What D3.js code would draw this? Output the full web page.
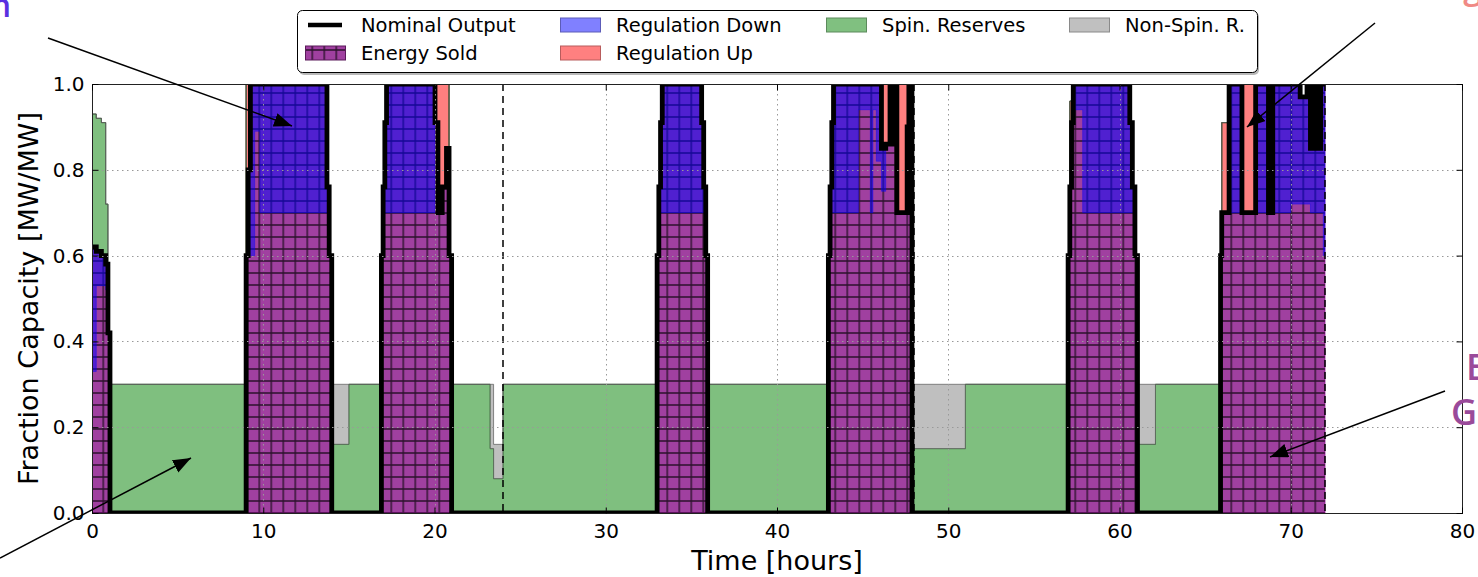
<!DOCTYPE html>
<html>
<head>
<meta charset="utf-8">
<script src="https://cdn.jsdelivr.net/npm/d3@7"></script>
<style>
  body { margin: 0; background: #fff; overflow: hidden; }
  svg { display: block; font-family: "DejaVu Sans", sans-serif; }
</style>
</head>
<body>
<svg id="chart" width="1478" height="577"></svg>
<script>
// step series: [start hour, value], each value holds until the next start
const nominalSteps = [[0,0.62],[0.25,0.61],[0.55,0.60],[0.8,0.58],[0.93,0.42],[1.05,0],
  [9.0,0.6],[9.12,0.8],[9.25,1.0],[13.72,0.76],[13.85,0.6],[14.0,0],
  [16.9,0.6],[17.0,0.76],[17.1,0.91],[17.2,1.0],[20.03,0.91],[20.2,0.7],[20.45,0.76],[20.7,0.85],[20.85,0.6],[21.0,0],
  [33.0,0.6],[33.1,0.76],[33.2,0.91],[33.3,1.0],[35.6,0.91],[35.72,0.76],[35.84,0.6],[35.95,0],
  [43.0,0.6],[43.1,0.76],[43.2,0.91],[43.3,1.0],[46.1,0.85],[46.35,0.86],[46.6,1.0],[46.72,0.86],[46.84,1.0],
  [47.0,0.7],[47.6,0.9],[47.7,1.0],[47.88,0],
  [57.0,0.6],[57.1,0.76],[57.2,0.91],[57.3,1.0],[60.6,0.91],[60.75,0.76],[60.9,0.6],[61.05,0],
  [65.9,0.6],[65.97,0.7],[66.4,1.0],[67.15,0.7],[67.95,1.0],[68.7,0.7],[68.95,1.0],[70.55,0.97],[70.95,1.0],
  [71.15,0.85],[71.3,1.0],[71.42,0.85],[71.55,1.0],[71.65,0.85],[71.75,1.0]];

const regDownSteps = [[0,0.29],[0.25,0.08],[0.55,0.07],[0.8,0.06],[0.93,0],
  [9.25,0.4],[9.5,0.11],[9.8,0.3],[13.72,0.06],[13.85,0],
  [17.0,0.06],[17.1,0.21],[17.2,0.3],[20.03,0],
  [33.1,0.06],[33.2,0.21],[33.3,0.3],[35.6,0.21],[35.72,0.06],[35.84,0],
  [43.1,0.06],[43.2,0.21],[43.3,0.3],[44.75,0.06],[45.45,0.3],[45.6,0.06],[45.8,0.18],[46.1,0.1],[46.35,0],
  [46.6,0.14],[46.72,0],[46.84,0.14],[47.0,0],[47.7,0.3],[47.88,0],
  [57.3,0.06],[57.85,0.3],[60.6,0.21],[60.75,0.06],[60.9,0],
  [66.4,0.3],[67.15,0],[67.95,0.3],[68.7,0],[68.95,0.3],[70.0,0.28],[70.55,0.25],[70.95,0.28],
  [71.15,0.15],[71.3,0.3],[71.42,0.15],[71.55,0.3],[71.65,0.15],[71.75,0.3],[71.9,0.4]];

const regUpSteps = [[0,0],[9.0,0.4],[9.12,0.2],[9.25,0],
  [20.03,0.09],[20.2,0.3],[20.45,0.24],[20.7,0.15],[20.85,0],
  [46.1,0.15],[46.35,0.14],[46.6,0],[46.72,0.14],[46.84,0],[47.0,0.3],[47.6,0.1],[47.7,0],
  [57.1,0.2],[57.2,0.09],[57.3,0],
  [65.97,0.21],[66.4,0],[67.15,0.3],[67.95,0],[68.7,0.3],[68.95,0]];

const spinSteps = [[0,0.31],[0.8,0.14],[0.93,0],[1.05,0.3],[9.0,0],
  [14.0,0.16],[15.0,0.3],[16.9,0],[21.0,0.3],[23.25,0.15],[23.45,0.08],[24.0,0.3],[33.0,0],
  [35.95,0.3],[43.0,0],[47.88,0.15],[51.0,0.3],[57.0,0],[61.05,0.16],[62.1,0.3],[65.9,0]];

const nonSpinSteps = [[0,0],[14.0,0.14],[15.0,0],[23.25,0.15],[23.45,0.08],[24.0,0],
  [47.88,0.15],[51.0,0],[61.05,0.14],[62.1,0]];

const endHour = 72;
const dayMarks = [24, 48, 72];
const xTicks = [0, 10, 20, 30, 40, 50, 60, 70, 80];
const yTicks = [0, 0.2, 0.4, 0.6, 0.8, 1.0];
const legendLabels = ['Nominal Output', 'Energy Sold', 'Regulation Down', 'Regulation Up', 'Spin. Reserves', 'Non-Spin. R.'];

const svg = d3.select('#chart');
const pLeft = 92, pRight = 1462, pTop = 84, pBottom = 513;

const x = d3.scaleLinear().domain([0, 80]).range([pLeft, pRight]);
const y = d3.scaleLinear().domain([0, 1]).range([pBottom, pTop]);

function stepAt(steps, t) {
  let v = 0;
  for (const s of steps) {
    if (s[0] <= t + 1e-9) v = s[1]; else break;
  }
  return v;
}

const allSteps = [nominalSteps, regDownSteps, regUpSteps, spinSteps, nonSpinSteps];
const times = Array.from(new Set([].concat(...allSteps).map(function(d) { return d[0]; })))
  .sort(function(a, b) { return a - b; });

const rows = times.map(function(t) {
  return {
    t: t,
    nom: stepAt(nominalSteps, t),
    rd: stepAt(regDownSteps, t),
    ru: stepAt(regUpSteps, t),
    sp: stepAt(spinSteps, t),
    ns: stepAt(nonSpinSteps, t)
  };
});
rows.push(Object.assign({}, rows[rows.length - 1], {t: endHour}));

const defs = svg.append('defs');
const pat = defs.append('pattern')
  .attr('id', 'hatch')
  .attr('patternUnits', 'userSpaceOnUse')
  .attr('width', 12).attr('height', 12)
  .attr('x', 1.3).attr('y', 3);
pat.append('rect').attr('width', 12).attr('height', 12).attr('fill', '#a040a0');
pat.append('path').attr('d', 'M6,0V12M0,6H12')
  .attr('stroke', '#000').attr('stroke-opacity', 0.72).attr('stroke-width', 1.4);

defs.append('clipPath').attr('id', 'plotClip')
  .append('rect')
  .attr('x', pLeft).attr('y', pTop)
  .attr('width', pRight - pLeft).attr('height', pBottom - pTop);

defs.append('marker')
  .attr('id', 'arrowHead')
  .attr('markerUnits', 'userSpaceOnUse')
  .attr('markerWidth', 20).attr('markerHeight', 16)
  .attr('refX', 18).attr('refY', 7)
  .attr('orient', 'auto')
  .append('path')
  .attr('d', 'M0,0L18,7L0,14Z')
  .attr('fill', '#000');

const plot = svg.append('g').attr('clip-path', 'url(#plotClip)');

function areaFor(lo, hi) {
  return d3.area()
    .curve(d3.curveStepAfter)
    .x(function(d) { return x(d.t); })
    .y0(function(d) { return y(lo(d)); })
    .y1(function(d) { return y(hi(d)); });
}

const layers = [
  {fill: 'url(#hatch)', stroke: 'rgba(128,0,128,0.7)',
    lo: function(d) { return 0; }, hi: function(d) { return d.nom; }},
  {fill: 'rgba(0,0,255,0.5)', stroke: 'rgba(0,0,255,0.4)',
    lo: function(d) { return d.nom - d.rd; }, hi: function(d) { return d.nom; }},
  {fill: 'rgba(255,0,0,0.5)', stroke: 'rgba(200,0,0,0.5)',
    lo: function(d) { return d.nom; }, hi: function(d) { return d.nom + d.ru; }},
  {fill: 'rgba(0,128,0,0.5)', stroke: 'rgba(0,100,0,0.5)',
    lo: function(d) { return d.nom + d.ru; }, hi: function(d) { return d.nom + d.ru + d.sp; }},
  {fill: 'rgba(128,128,128,0.5)', stroke: 'rgba(90,90,90,0.7)',
    lo: function(d) { return d.nom + d.ru + d.sp; }, hi: function(d) { return d.nom + d.ru + d.sp + d.ns; }}
];

plot.selectAll('path.layer')
  .data(layers)
  .enter()
  .append('path')
  .attr('class', 'layer')
  .attr('d', function(l) { return areaFor(l.lo, l.hi)(rows); })
  .attr('fill', function(l) { return l.fill; })
  .attr('stroke', function(l) { return l.stroke; })
  .attr('stroke-width', 1);

// grid
const grid = svg.append('g').attr('stroke', '#999').attr('stroke-width', 1)
  .attr('stroke-dasharray', '1.5,3.5');
grid.selectAll('line.gx').data(xTicks.slice(1, -1)).enter().append('line')
  .attr('x1', function(d) { return Math.round(x(d)) + 0.5; })
  .attr('x2', function(d) { return Math.round(x(d)) + 0.5; })
  .attr('y1', pTop).attr('y2', pBottom);
grid.selectAll('line.gy').data(yTicks.slice(1, -1)).enter().append('line')
  .attr('y1', function(d) { return Math.round(y(d)) + 0.5; })
  .attr('y2', function(d) { return Math.round(y(d)) + 0.5; })
  .attr('x1', pLeft).attr('x2', pRight);

// day boundaries
plot.selectAll('line.day').data(dayMarks).enter().append('line')
  .attr('x1', function(d) { return x(d); })
  .attr('x2', function(d) { return x(d); })
  .attr('y1', pTop).attr('y2', pBottom)
  .attr('stroke', '#000').attr('stroke-width', 1.5)
  .attr('stroke-dasharray', '7,5');

// nominal output
plot.append('path')
  .datum(rows)
  .attr('fill', 'none')
  .attr('stroke', '#000')
  .attr('stroke-width', 4.8)
  .attr('d', d3.line().curve(d3.curveStepAfter)
    .x(function(d) { return x(d.t); })
    .y(function(d) { return y(d.nom); }));

// frame and ticks
svg.append('rect')
  .attr('x', pLeft + 0.5).attr('y', pTop + 0.5)
  .attr('width', pRight - pLeft).attr('height', pBottom - pTop)
  .attr('fill', 'none').attr('stroke', '#222').attr('stroke-width', 1);

const axBottom = svg.append('g').attr('transform', 'translate(0,' + (pBottom + 0.5) + ')')
  .call(d3.axisBottom(x).tickValues(xTicks).tickSize(-6).tickPadding(10).tickFormat(d3.format('d')));
const axTop = svg.append('g').attr('transform', 'translate(0,' + (pTop + 0.5) + ')')
  .call(d3.axisTop(x).tickValues(xTicks).tickSize(-6).tickFormat(''));
const axLeft = svg.append('g').attr('transform', 'translate(' + (pLeft + 0.5) + ',0)')
  .call(d3.axisLeft(y).tickValues(yTicks).tickSize(-6).tickPadding(8).tickFormat(d3.format('.1f')));
const axRight = svg.append('g').attr('transform', 'translate(' + (pRight + 0.5) + ',0)')
  .call(d3.axisRight(y).tickValues(yTicks).tickSize(-6).tickFormat(''));

[axBottom, axTop, axLeft, axRight].forEach(function(a) {
  a.select('.domain').remove();
  a.selectAll('.tick line').attr('stroke', '#000');
  a.selectAll('text')
    .attr('font-family', '"DejaVu Sans", sans-serif')
    .attr('font-size', 20)
    .attr('fill', '#000');
});

svg.append('text')
  .attr('x', (pLeft + pRight) / 2).attr('y', 570)
  .attr('text-anchor', 'middle')
  .attr('font-size', 27)
  .text('Time [hours]');

svg.append('text')
  .attr('transform', 'translate(38,' + ((pTop + pBottom) / 2) + ') rotate(-90)')
  .attr('text-anchor', 'middle')
  .attr('font-size', 27)
  .text('Fraction Capacity [MW/MW]');

// legend
const legend = svg.append('g');
legend.append('rect')
  .attr('x', 299).attr('y', 12).attr('width', 960).attr('height', 63).attr('rx', 5)
  .attr('fill', '#888').attr('opacity', 0.6);
legend.append('rect')
  .attr('x', 297.5).attr('y', 10.5).attr('width', 960).attr('height', 62).attr('rx', 5)
  .attr('fill', '#fff').attr('stroke', '#000').attr('stroke-width', 1);

const legendColX = [305, 560, 826, 1069];
const legendRowY = [25, 53];
const legendStyles = [
  {line: true},
  {fill: 'url(#hatch)', stroke: '#5a1a5a'},
  {fill: '#8080ff', stroke: '#5c5cb8'},
  {fill: '#ff8080', stroke: '#b85c5c'},
  {fill: '#80c080', stroke: '#5c8a5c'},
  {fill: '#c0c0c0', stroke: '#8a8a8a'}
];
const legendSlots = [[0, 0], [0, 1], [1, 0], [1, 1], [2, 0], [3, 0]];

const items = legend.selectAll('g.item')
  .data(legendLabels)
  .enter()
  .append('g')
  .attr('class', 'item')
  .attr('transform', function(d, i) {
    return 'translate(' + legendColX[legendSlots[i][0]] + ',' + legendRowY[legendSlots[i][1]] + ')';
  });

items.each(function(d, i) {
  const g = d3.select(this);
  const st = legendStyles[i];
  if (st.line) {
    g.append('line').attr('x1', 3).attr('x2', 37).attr('y1', 0).attr('y2', 0)
      .attr('stroke', '#000').attr('stroke-width', 4.5);
  } else {
    g.append('rect').attr('x', 0.5).attr('y', -7).attr('width', 40).attr('height', 14)
      .attr('fill', st.fill).attr('stroke', st.stroke).attr('stroke-width', 1);
  }
  g.append('text').attr('x', 56).attr('dy', '0.36em')
    .attr('font-size', 19.5).attr('fill', '#000').text(d);
});

// annotations (mostly outside the visible area)
const notes = svg.append('g').attr('font-family', '"Open Sans", sans-serif').attr('font-weight', 600);
notes.append('text').attr('x', 11).attr('y', 17).attr('text-anchor', 'end')
  .attr('font-size', 32).attr('fill', '#5a2fe0').text('Regulation Down');
notes.append('text').attr('x', 1422).attr('y', -1)
  .attr('font-size', 34).attr('fill', '#f08a85').text('Regulation Up');
notes.append('text').attr('x', 1466).attr('y', 380)
  .attr('font-size', 36).attr('fill', '#9a4a9a').text('Energy');
notes.append('text').attr('x', 1451).attr('y', 425)
  .attr('font-size', 36).attr('fill', '#9a4a9a').text('Generated');

const arrows = [
  [48, 38, 292, 126],
  [1375, 23, 1247, 127],
  [1445, 391, 1270, 457],
  [0, 558, 191, 458]
];
svg.selectAll('line.arrow').data(arrows).enter().append('line')
  .attr('class', 'arrow')
  .attr('x1', function(d) { return d[0]; }).attr('y1', function(d) { return d[1]; })
  .attr('x2', function(d) { return d[2]; }).attr('y2', function(d) { return d[3]; })
  .attr('stroke', '#000').attr('stroke-width', 1.5)
  .attr('marker-end', 'url(#arrowHead)');
</script>
</body>
</html>
